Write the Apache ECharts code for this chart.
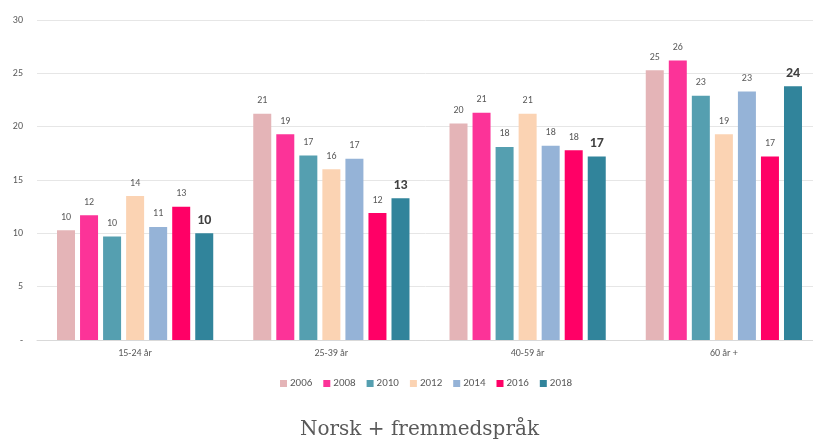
<!DOCTYPE html>
<html>
<head>
<meta charset="utf-8">
<script src="https://cdn.jsdelivr.net/npm/echarts@6/dist/echarts.min.js"></script>
<style>
  html, body { margin: 0; padding: 0; background: #fff; }
  #chart { width: 813px; height: 446px; }
</style>
</head>
<body>
<div id="chart"></div>
<script>
// age groups on the x axis
const categories = ['15-24 år', '25-39 år', '40-59 år', '60 år +']
const years = ['2006', '2008', '2010', '2012', '2014', '2016', '2018']
const colors = ['#E4B4B7', '#FC3398', '#559FB0', '#FBD3B3', '#95B3D7', '#FF0066', '#31849B']

// share per year
const v2006 = [10.3, 21.2, 20.3, 25.3]
const v2008 = [11.7, 19.3, 21.3, 26.2]
const v2010 = [9.7, 17.3, 18.1, 22.9]
const v2012 = [13.5, 16.0, 21.2, 19.3]
const v2014 = [10.6, 17.0, 18.2, 23.3]
const v2016 = [12.5, 11.9, 17.8, 17.2]
const v2018 = [10.0, 13.3, 17.2, 23.8]
const values = [v2006, v2008, v2010, v2012, v2014, v2016, v2018]

const yTicks = [0, 5, 10, 15, 20, 25, 30]
const title = 'Norsk + fremmedspråk'

const font = 'Calibri, Carlito, "Open Sans", "Noto Sans", sans-serif'
const textColor = '#595959'

const chart = echarts.init(document.getElementById('chart'), null, { renderer: 'canvas' })

const series = years.map((year, i) => {
  const isLast = i === years.length - 1
  return {
    name: year,
    type: 'bar',
    data: values[i],
    barWidth: 18,
    barGap: '28%',
    itemStyle: { color: colors[i] },
    emphasis: { disabled: true },
    label: {
      show: true,
      position: 'top',
      distance: isLast ? 6 : 8,
      formatter: (p) => Math.round(p.value),
      color: isLast ? '#404040' : '#595959',
      fontFamily: font,
      fontSize: isLast ? 14 : 10,
      fontWeight: isLast ? 'bold' : 'normal',
    },
  }
})

chart.setOption({
  animation: false,
  color: colors,
  title: {
    text: title,
    left: 300,
    top: 420,
    padding: 0,
    textStyle: {
      fontFamily: '"DejaVu Serif", Georgia, serif',
      fontSize: 20,
      fontWeight: 'normal',
      color: textColor,
    },
  },
  legend: {
    data: years,
    top: 373,
    left: 275,
    itemWidth: 7,
    itemHeight: 7,
    itemGap: 11,
    icon: 'rect',
    textStyle: { color: textColor, fontFamily: font, fontSize: 11, padding: [0, 0, 0, -2] },
  },
  grid: {
    left: 37,
    width: 785,
    top: 20,
    bottom: 106,
    outerBoundsMode: 'none',
  },
  xAxis: {
    type: 'category',
    data: categories,
    axisLine: { lineStyle: { color: '#D9D9D9' } },
    axisTick: { show: false },
    axisLabel: { color: textColor, fontFamily: font, fontSize: 10, margin: 8 },
  },
  yAxis: {
    type: 'value',
    min: yTicks[0],
    max: yTicks[yTicks.length - 1],
    interval: 5,
    axisLine: { show: false },
    axisTick: { show: false },
    splitLine: { lineStyle: { color: '#E6E6E6' } },
    axisLabel: {
      color: textColor,
      fontFamily: font,
      fontSize: 10,
      margin: 14,
      formatter: (v) => (v === 0 ? '-' : v),
    },
  },
  series,
})
</script>
</body>
</html>
